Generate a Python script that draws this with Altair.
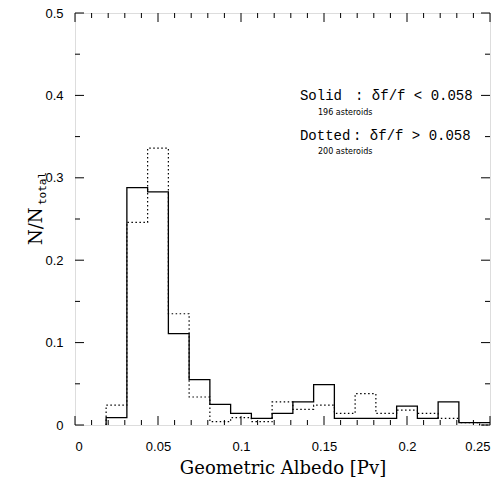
import altair as alt
import pandas as pd

# Bin edges (geometric albedo) and normalized counts
edges = [0.01875, 0.03125, 0.04375, 0.05625, 0.06875, 0.08125, 0.09375, 0.10625,
         0.11875, 0.13125, 0.14375, 0.15625, 0.16875, 0.18125, 0.19375, 0.20625,
         0.21875, 0.23125, 0.24375, 0.25]
solid = [0.009, 0.288, 0.283, 0.111, 0.055, 0.025, 0.014, 0.008, 0.014, 0.028,
         0.049, 0.008, 0.008, 0.008, 0.023, 0.008, 0.028, 0.003, 0.003]
dotted = [0.024, 0.246, 0.336, 0.135, 0.034, 0.004, 0.009, 0.004, 0.028, 0.019,
          0.024, 0.014, 0.038, 0.014, 0.018, 0.014, 0.008, 0.003, 0.0]

x_ticks = [0, 0.05, 0.1, 0.15, 0.2, 0.25]
x_minor = [0.01, 0.02, 0.03, 0.04, 0.06, 0.07, 0.08, 0.09, 0.11, 0.12, 0.13, 0.14,
           0.16, 0.17, 0.18, 0.19, 0.21, 0.22, 0.23, 0.24]
y_ticks = [0, 0.1, 0.2, 0.3, 0.4, 0.5]
y_minor = [0.05, 0.15, 0.25, 0.35, 0.45]

W, H = 415, 412


def step_points(vals, name):
    rows = [{"x": edges[0], "y": 0.0, "o": 0, "s": name}]
    for i, v in enumerate(vals):
        rows.append({"x": edges[i], "y": v, "o": i + 1, "s": name})
    rows.append({"x": edges[-1], "y": vals[-1], "o": len(vals) + 1, "s": name})
    return rows


df_solid = pd.DataFrame(step_points(solid, "solid"))
df_dot = pd.DataFrame(step_points(dotted, "dotted"))

xs = alt.Scale(domain=[0, 0.25], nice=False, zero=False)
ys = alt.Scale(domain=[0, 0.5], nice=False, zero=False)

xax = alt.Axis(values=x_ticks, format="~g", ticks=False, domain=False, grid=False,
               labelFont="Liberation Sans", labelFontSize=13, labelPadding=15,
               labelColor="black", title="Geometric Albedo [Pv]",
               titleFont="DejaVu Serif", titleFontSize=18, titleFontWeight="normal",
               titleColor="black", titlePadding=6)
yax = alt.Axis(values=y_ticks, format="~g", ticks=False, domain=False, grid=False,
               labelFont="Liberation Sans", labelFontSize=13, labelPadding=12,
               labelColor="black", title=None)

line_solid = alt.Chart(df_solid).mark_line(
    interpolate="step-after", color="black", strokeWidth=1.3
).encode(
    x=alt.X("x:Q", scale=xs, axis=xax),
    y=alt.Y("y:Q", scale=ys, axis=yax),
    order="o:Q",
)

line_dot = alt.Chart(df_dot).mark_line(
    interpolate="step-after", color="black", strokeWidth=1.2, strokeDash=[1.5, 2.5]
).encode(
    x=alt.X("x:Q", scale=xs),
    y=alt.Y("y:Q", scale=ys),
    order="o:Q",
)


# Inward ticks
def xtick_layer(vals, length, top):
    d = pd.DataFrame({"x": vals})
    if top:
        enc = dict(y=alt.value(0), y2=alt.value(length))
    else:
        enc = dict(y=alt.value(H), y2=alt.value(H - length))
    return alt.Chart(d).mark_rule(color="black", strokeWidth=1).encode(
        x=alt.X("x:Q", scale=xs), **enc)


def ytick_layer(vals, length, right):
    d = pd.DataFrame({"y": vals})
    if right:
        enc = dict(x=alt.value(W), x2=alt.value(W - length))
    else:
        enc = dict(x=alt.value(0), x2=alt.value(length))
    return alt.Chart(d).mark_rule(color="black", strokeWidth=1).encode(
        y=alt.Y("y:Q", scale=ys), **enc)


ticks = [
    xtick_layer(x_ticks, 9, False), xtick_layer(x_minor, 5, False),
    xtick_layer(x_ticks, 9, True), xtick_layer(x_minor, 5, True),
    ytick_layer(y_ticks, 9, False), ytick_layer(y_minor, 5, False),
    ytick_layer(y_ticks, 9, True), ytick_layer(y_minor, 5, True),
]

# Annotation texts
big_labels = pd.DataFrame({
    "x": [0.1355, 0.1687, 0.1355, 0.1675],
    "y": [0.3993, 0.3993, 0.3507, 0.3507],
    "t": ["Solid", ": δf/f < 0.058", "Dotted", ": δf/f > 0.058"],
})
small_labels = pd.DataFrame({
    "x": [0.1464, 0.1464],
    "y": [0.3786, 0.3313],
    "t": ["196 asteroids", "200 asteroids"],
})

txt_big = alt.Chart(big_labels).mark_text(
    align="left", baseline="middle", font="Liberation Mono", fontSize=14, color="black"
).encode(x=alt.X("x:Q", scale=xs), y=alt.Y("y:Q", scale=ys), text="t:N")

txt_small = alt.Chart(small_labels).mark_text(
    align="left", baseline="middle", font="DejaVu Sans", fontSize=8, color="black"
).encode(x=alt.X("x:Q", scale=xs), y=alt.Y("y:Q", scale=ys), text="t:N")

ylab_main = alt.Chart(pd.DataFrame({"t": ["N/N"]})).mark_text(
    align="left", baseline="middle", angle=270, font="DejaVu Serif", fontSize=18,
    color="black"
).encode(x=alt.value(-38), y=alt.value(232), text="t:N")

ylab_sub = alt.Chart(pd.DataFrame({"t": ["total"]})).mark_text(
    align="left", baseline="middle", angle=270, font="DejaVu Sans Mono", fontSize=11,
    color="black"
).encode(x=alt.value(-32), y=alt.value(192), text="t:N")

chart = alt.layer(
    line_dot, line_solid, *ticks, txt_big, txt_small, ylab_main, ylab_sub
).properties(
    width=W, height=H,
    autosize=alt.AutoSizeParams(type="none"),
    padding={"left": 75, "top": 13, "right": 13, "bottom": 55},
).configure_view(
    stroke="black", strokeWidth=1.3, fill="white"
).configure(background="white")

chart.save("out.html", embed_options={"renderer": "svg", "actions": False})
